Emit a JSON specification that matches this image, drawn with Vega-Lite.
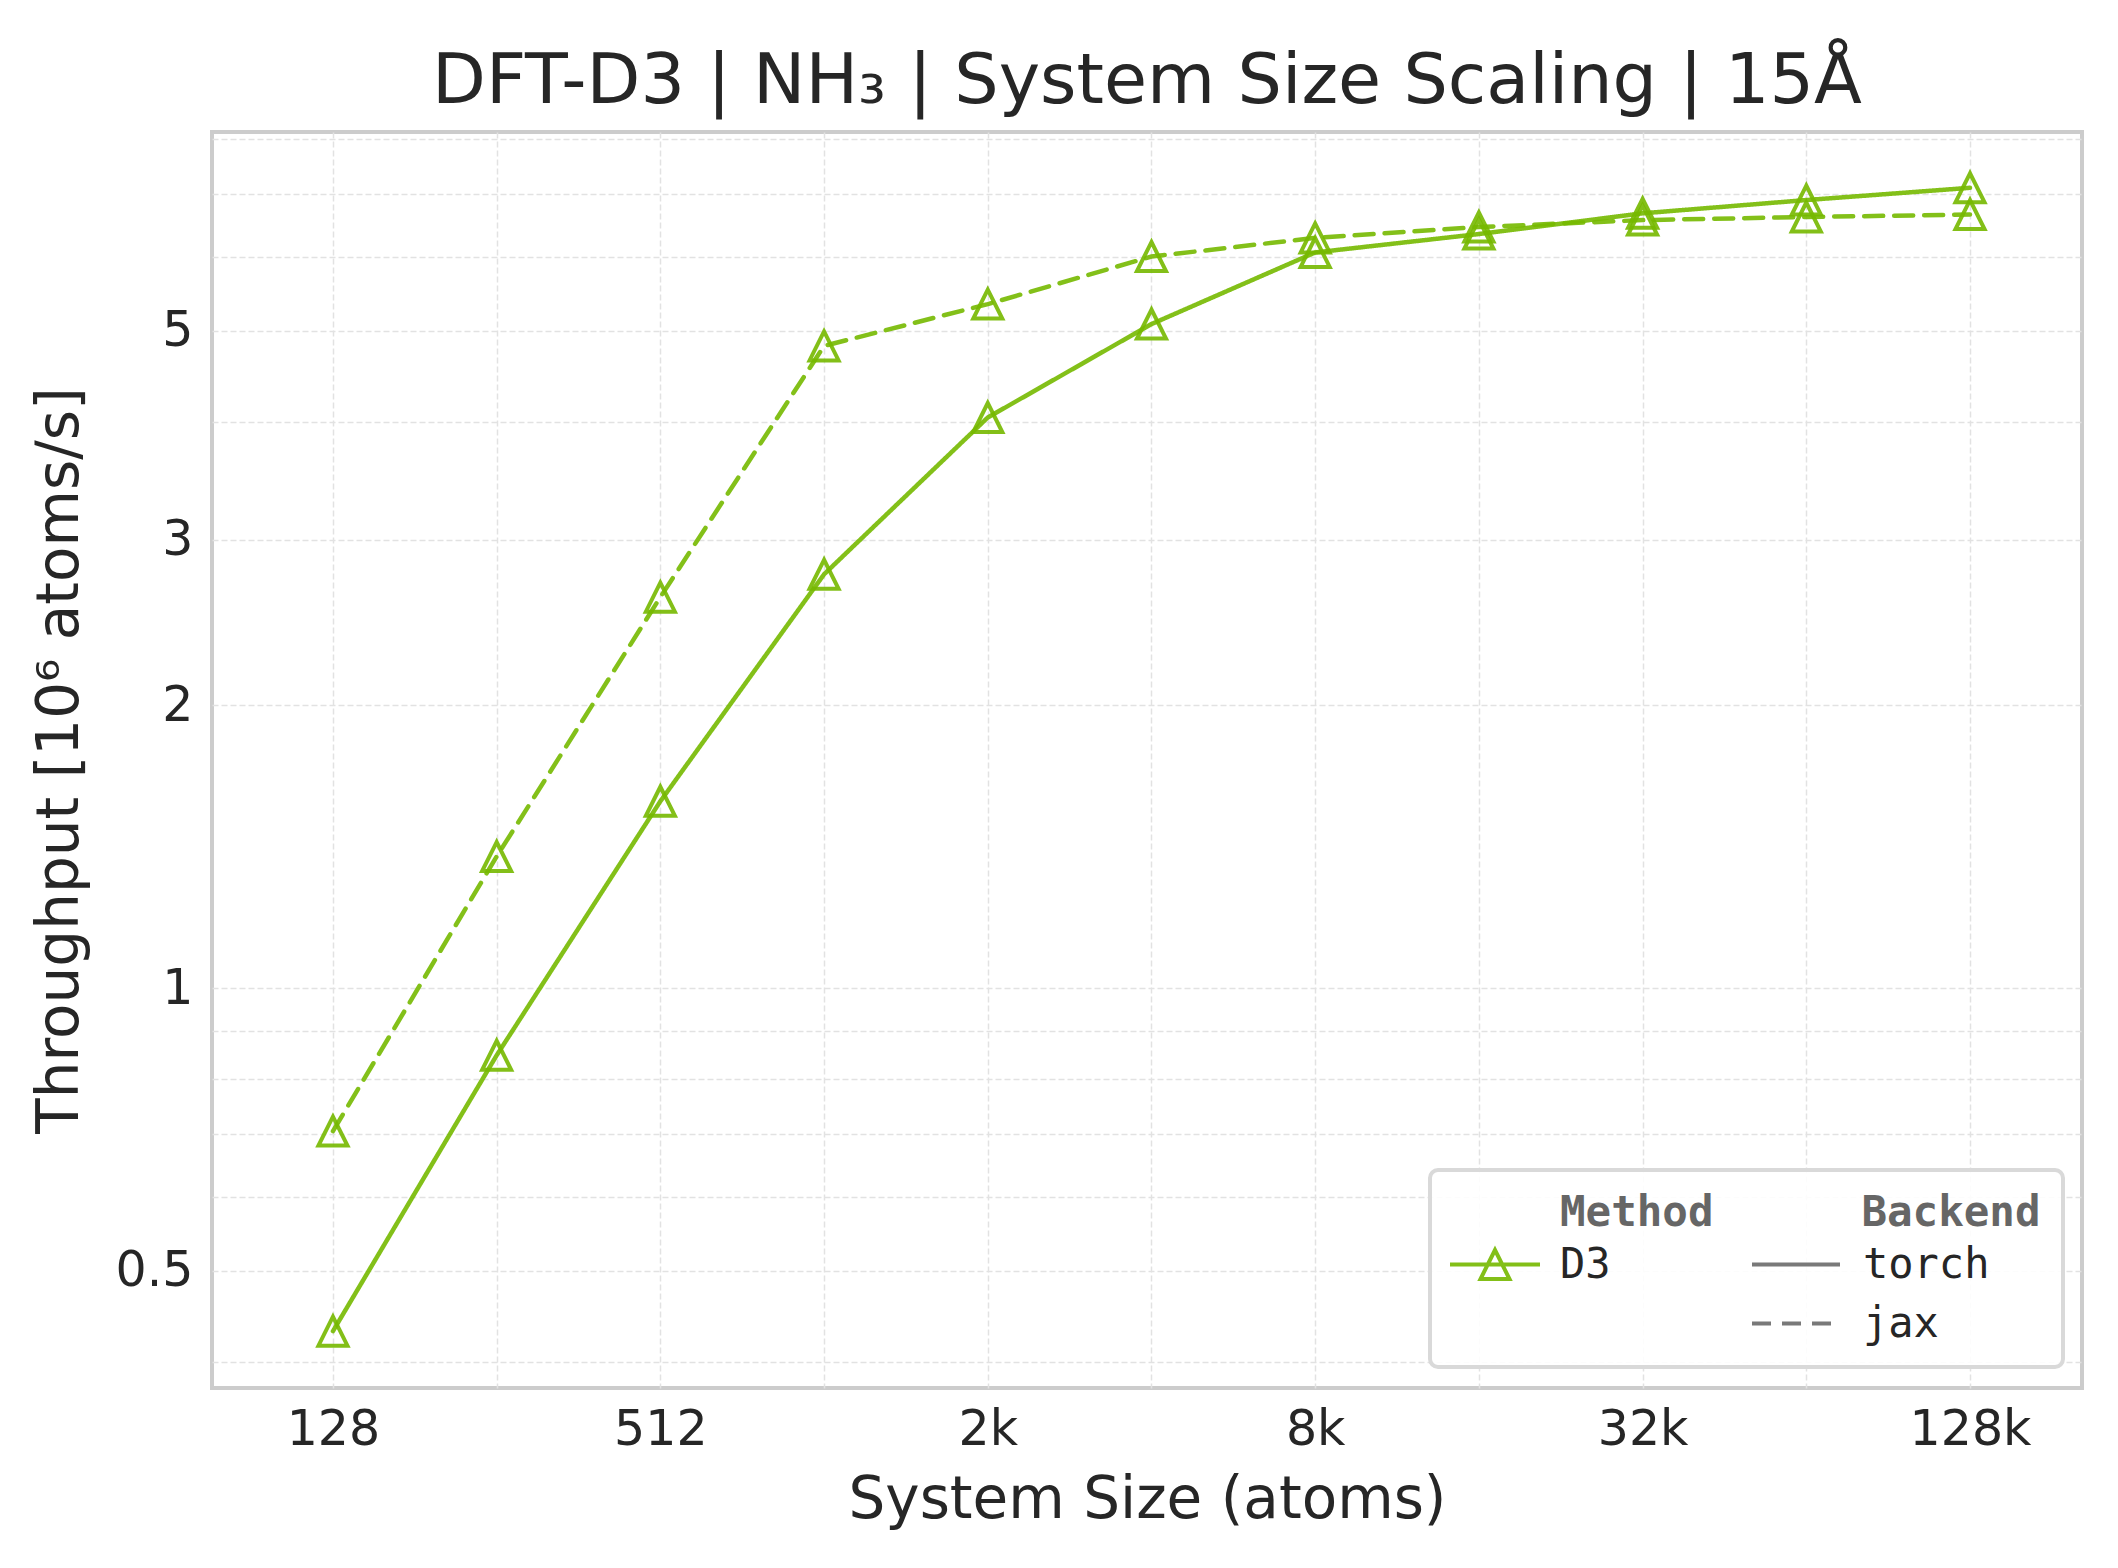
{
  "$schema": "https://vega.github.io/schema/vega-lite/v6.json",
  "autosize": {"type": "none"},
  "width": 1870,
  "height": 1256,
  "padding": {"left": 212, "top": 132, "right": 36, "bottom": 180},
  "background": "white",
  "title": {
    "text": "DFT-D3 | NH₃ | System Size Scaling | 15Å",
    "font": "DejaVu Sans",
    "fontSize": 70,
    "fontWeight": "normal",
    "color": "#262626",
    "anchor": "middle",
    "frame": "group",
    "baseline": "alphabetic",
    "offset": 29,
    "dy": 87
  },
  "config": {
    "font": "DejaVu Sans",
    "view": {"stroke": "#cccccc", "strokeWidth": 4},
    "legend": {"strokeWidth": 4, "titleLimit": 1000, "labelLimit": 1000},
    "axis": {
      "labelFont": "DejaVu Sans",
      "labelFontSize": 49,
      "labelColor": "#262626",
      "titleFont": "DejaVu Sans",
      "titleFontSize": 58,
      "titleFontWeight": "normal",
      "titleColor": "#262626",
      "ticks": false,
      "tickSize": 0,
      "domain": false,
      "gridColor": "#e2e2e2",
      "gridDash": [6, 3],
      "gridWidth": 1.5,
      "labelFlush": false,
      "labelOverlap": false
    }
  },
  "data": {
    "values": [
      {"atoms": 128, "backend": "torch", "method": "D3", "throughput": 0.4315},
      {"atoms": 256, "backend": "torch", "method": "D3", "throughput": 0.848},
      {"atoms": 512, "backend": "torch", "method": "D3", "throughput": 1.58},
      {"atoms": 1024, "backend": "torch", "method": "D3", "throughput": 2.755},
      {"atoms": 2048, "backend": "torch", "method": "D3", "throughput": 4.045},
      {"atoms": 4096, "backend": "torch", "method": "D3", "throughput": 5.085},
      {"atoms": 8192, "backend": "torch", "method": "D3", "throughput": 6.06},
      {"atoms": 16384, "backend": "torch", "method": "D3", "throughput": 6.34},
      {"atoms": 32768, "backend": "torch", "method": "D3", "throughput": 6.67},
      {"atoms": 65536, "backend": "torch", "method": "D3", "throughput": 6.89},
      {"atoms": 131072, "backend": "torch", "method": "D3", "throughput": 7.1},
      {"atoms": 128, "backend": "jax", "method": "D3", "throughput": 0.7043},
      {"atoms": 256, "backend": "jax", "method": "D3", "throughput": 1.38},
      {"atoms": 512, "backend": "jax", "method": "D3", "throughput": 2.605},
      {"atoms": 1024, "backend": "jax", "method": "D3", "throughput": 4.82},
      {"atoms": 2048, "backend": "jax", "method": "D3", "throughput": 5.34},
      {"atoms": 4096, "backend": "jax", "method": "D3", "throughput": 6.0},
      {"atoms": 8192, "backend": "jax", "method": "D3", "throughput": 6.28},
      {"atoms": 16384, "backend": "jax", "method": "D3", "throughput": 6.45},
      {"atoms": 32768, "backend": "jax", "method": "D3", "throughput": 6.56},
      {"atoms": 65536, "backend": "jax", "method": "D3", "throughput": 6.61},
      {"atoms": 131072, "backend": "jax", "method": "D3", "throughput": 6.65}
    ]
  },
  "encoding": {
    "x": {
      "field": "atoms",
      "type": "quantitative",
      "scale": {"type": "log", "base": 2, "domain": [76.7, 210600], "nice": false},
      "axis": {
        "title": "System Size (atoms)",
        "values": [128, 256, 512, 1024, 2048, 4096, 8192, 16384, 32768, 65536, 131072],
        "labelExpr": "datum.value == 128 ? '128' : datum.value == 512 ? '512' : datum.value == 2048 ? '2k' : datum.value == 8192 ? '8k' : datum.value == 32768 ? '32k' : datum.value == 131072 ? '128k' : ''",
        "labelPadding": 17,
        "titlePadding": 17
      }
    },
    "y": {
      "field": "throughput",
      "type": "quantitative",
      "scale": {"type": "log", "domain": [0.3754, 8.14], "nice": false, "zero": false},
      "axis": {
        "title": "Throughput [10⁶ atoms/s]",
        "values": [0.4, 0.5, 0.6, 0.7, 0.8, 0.9, 1, 2, 3, 4, 5, 6, 7, 8],
        "labelExpr": "datum.value == 0.5 ? '0.5' : datum.value == 1 ? '1' : datum.value == 2 ? '2' : datum.value == 3 ? '3' : datum.value == 5 ? '5' : ''",
        "labelPadding": 19,
        "titlePadding": 26
      }
    },
    "color": {
      "field": "method",
      "type": "nominal",
      "scale": {"domain": ["D3"], "range": ["#76b900"]},
      "legend": {
        "title": "Method",
        "orient": "none",
        "legendX": 1328,
        "legendY": 1040,
        "padding": 20,
        "zindex": 1,
        "titleFont": "DejaVu Sans Mono",
        "titleFontSize": 42.5,
        "titleFontWeight": "bold",
        "titleColor": "#666666",
        "titlePadding": 9,
        "labelFont": "DejaVu Sans Mono",
        "labelFontSize": 42,
        "labelColor": "#262626",
        "labelOffset": 44,
        "symbolType": "M-4.5,0H4.5M0,-1.45L-1.45,1.45L1.45,1.45Z",
        "symbolSize": 400,
        "symbolOffset": -86,
        "symbolStrokeWidth": 4,
        "symbolFillColor": "transparent",
        "symbolStrokeColor": "#76b900",
        "symbolOpacity": 0.9
      }
    }
  },
  "layer": [
    {
      "mark": {"type": "line", "strokeWidth": 4.5, "strokeCap": "round", "opacity": 0.9},
      "encoding": {
        "strokeDash": {
          "field": "backend",
          "type": "nominal",
          "scale": {"domain": ["torch", "jax"], "range": [[1, 0], [19, 11]]},
          "legend": {
            "title": "\u200b\u00a0\u00a0\u00a0\u00a0\u00a0\u00a0\u00a0\u00a0\u00a0\u00a0\u00a0\u00a0\u00a0\u00a0\u00a0\u00a0Backend",
            "orient": "none",
            "legendX": 1218,
            "legendY": 1038,
            "padding": 22,
            "zindex": 0,
            "strokeColor": "#d9d9d9",
            "fillColor": "rgba(255,255,255,0.9)",
            "cornerRadius": 8,
            "titleFont": "DejaVu Sans Mono",
            "titleFontSize": 42.5,
            "titleFontWeight": "bold",
            "titleColor": "#666666",
            "titlePadding": 9,
            "titleLimit": 1000,
            "labelFont": "DejaVu Sans Mono",
            "labelFontSize": 42,
            "labelColor": "#262626",
            "labelOffset": 46,
            "rowPadding": 17,
            "symbolType": "M-4.4,0H4.4",
            "symbolSize": 400,
            "symbolOffset": 323,
            "symbolStrokeWidth": 4,
            "symbolStrokeColor": "#6b6b6b",
            "symbolFillColor": "transparent"
          }
        }
      }
    },
    {
      "mark": {"type": "point", "shape": "M0,-1L-1,1L1,1Z", "size": 841, "filled": false, "strokeWidth": 4, "opacity": 0.9}
    }
  ]
}
